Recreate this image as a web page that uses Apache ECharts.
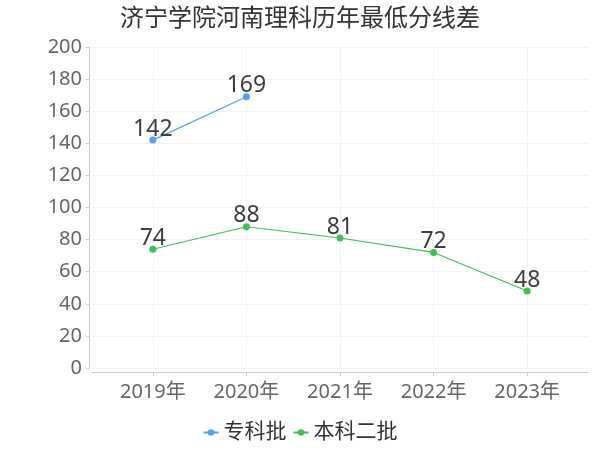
<!DOCTYPE html>
<html>
<head>
	<meta charset="utf-8">
	<script src="https://cdn.jsdelivr.net/npm/echarts@6/dist/echarts.min.js"></script>
</head>
<body style="margin:0">
	<div id="main" style="width: 600px; height: 450px"></div>
	<script type="text/javascript">
		// 数据
		var years = ['2019年', '2020年', '2021年', '2022年', '2023年'];
		var zhuanke = [142, 169, null, null, null];   // 专科批
		var benke2 = [74, 88, 81, 72, 48];            // 本科二批
		var yTicks = [0, 20, 40, 60, 80, 100, 120, 140, 160, 180, 200];

		var font = 'Noto Sans, Noto Sans CJK SC, sans-serif';
		// x 轴用数值轴，两端留出空白
		function toPoints(arr) {
			var out = [];
			arr.forEach(function (v, i) { if (v !== null) out.push([i, v]); });
			return out;
		}
		var idx = years.map(function (_, i) { return i; });

		var myChart = echarts.init(document.getElementById('main'));
		var option = {
			backgroundColor: '#fff',
			title: {
				text: '济宁学院河南理科历年最低分线差',
				left: 'center', top: 2,
				textStyle: { fontSize: 24, fontWeight: 'normal', color: '#333', fontFamily: font }
			},
			legend: {
				bottom: 2, left: 'center',
				itemWidth: 15, itemHeight: 8, itemGap: 6,
				textStyle: { fontSize: 21, color: '#333', fontFamily: font },
				data: ['专科批', '本科二批']
			},
			grid: { left: 92, right: 12, top: 47, bottom: 82 },
			xAxis: {
				type: 'value', min: -0.65, max: 4.65, offset: 4,
				axisLine: { onZero: false, lineStyle: { color: '#ccc' } },
				axisTick: { show: true, length: 4, customValues: idx, lineStyle: { color: '#ccc' } },
				axisLabel: {
					customValues: idx, fontSize: 20, color: '#666', fontFamily: font, margin: 10,
					formatter: function (v) { return years[v]; }
				},
				splitLine: { show: true, lineStyle: { color: '#f3f3f3' } }
			},
			yAxis: {
				type: 'value', min: 0, max: 200, interval: 20, offset: 3,
				axisLine: { show: true, onZero: false, lineStyle: { color: '#ccc' } },
				axisTick: { show: true, length: 3, lineStyle: { color: '#ccc' } },
				axisLabel: { fontSize: 20, color: '#666', fontFamily: font, margin: 7,
					customValues: yTicks },
				splitLine: { show: true, lineStyle: { color: '#f3f3f3' } }
			},
			series: [
				{
					name: '专科批', type: 'line', data: toPoints(zhuanke),
					symbol: 'circle', symbolSize: 7,
					itemStyle: { color: '#4da3f5' }, lineStyle: { width: 1.2 },
					label: { show: true, position: 'top', distance: -4, fontSize: 23, color: '#3d3d3d', fontFamily: font,
						formatter: function (p) { return p.value[1]; } }
				},
				{
					name: '本科二批', type: 'line', data: toPoints(benke2),
					symbol: 'circle', symbolSize: 7,
					itemStyle: { color: '#3cc057' }, lineStyle: { width: 1.2 },
					label: { show: true, position: 'top', distance: -4, fontSize: 23, color: '#3d3d3d', fontFamily: font,
						formatter: function (p) { return p.value[1]; } }
				}
			]
		};
		myChart.setOption(option);
	</script>
</body>
</html>
